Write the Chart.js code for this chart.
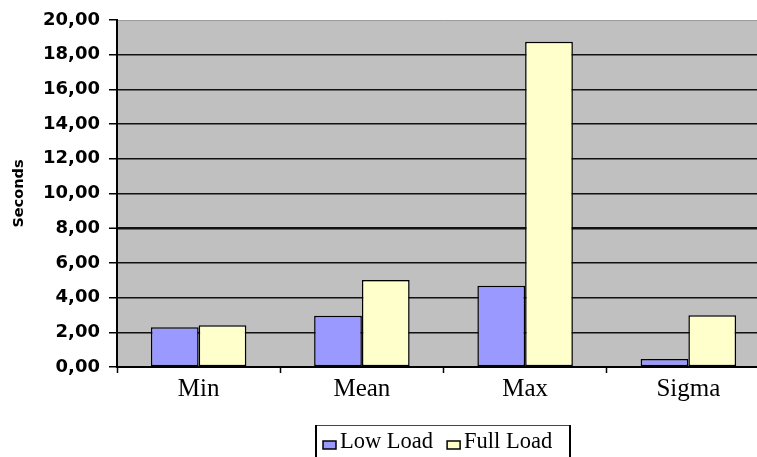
<!DOCTYPE html>
<html>
<head>
<meta charset="utf-8">
<script src="https://cdn.jsdelivr.net/npm/chart.js@4.4.1/dist/chart.umd.min.js"></script>
<style>
  html, body { margin: 0; padding: 0; background: #fff; overflow: hidden; }
  #wrap { position: relative; width: 772px; height: 457px; }
</style>
</head>
<body>
<div id="wrap"><canvas id="c"></canvas></div>
<script>
// Response-time statistics (seconds)
const categories = ['Min', 'Mean', 'Max', 'Sigma'];
const lowLoad = [2.29, 2.96, 4.69, 0.46];
const fullLoad = [2.40, 5.01, 18.75, 2.98];
const seriesNames = ['Low Load', 'Full Load'];
const yTicks = [0, 2, 4, 6, 8, 10, 12, 14, 16, 18, 20];

const serif = '"Liberation Serif", "Times New Roman", serif';
const sans = '"DejaVu Sans", Verdana, sans-serif';

// Grey plot background behind the bars
const plotBackground = {
  id: 'plotBackground',
  beforeDraw(chart) {
    const { ctx, chartArea: a } = chart;
    ctx.save();
    ctx.fillStyle = '#C0C0C0';
    ctx.fillRect(a.left, a.top, a.right - a.left, a.bottom - a.top);
    ctx.strokeStyle = '#9a9a9a';
    ctx.lineWidth = 1;
    ctx.beginPath();
    ctx.moveTo(a.left, a.top + 0.5);
    ctx.lineTo(a.right, a.top + 0.5);
    ctx.stroke();
    ctx.restore();
  }
};

// Boxed legend under the category labels
const boxedLegend = {
  id: 'boxedLegend',
  afterDraw(chart) {
    const { ctx, chartArea: a } = chart;
    const cx = (a.left + a.right) / 2;
    const boxW = 254, top = 425, bottom = 475;
    const left = Math.round(cx - boxW / 2) - 1;
    ctx.save();
    ctx.fillStyle = '#fff';
    ctx.fillRect(left, top, boxW, bottom - top);
    ctx.strokeStyle = '#444';
    ctx.lineWidth = 1;
    ctx.beginPath();
    ctx.moveTo(left, top + 0.5);
    ctx.lineTo(left + boxW, top + 0.5);
    ctx.stroke();
    ctx.strokeStyle = '#000';
    ctx.lineWidth = 2;
    ctx.beginPath();
    ctx.moveTo(left, top);
    ctx.lineTo(left, bottom);
    ctx.moveTo(left + boxW, top);
    ctx.lineTo(left + boxW, bottom);
    ctx.stroke();

    ctx.font = '22.5px ' + serif;
    ctx.textBaseline = 'alphabetic';
    let x = left + 7;
    chart.data.datasets.forEach((ds) => {
      ctx.fillStyle = ds.backgroundColor;
      ctx.fillRect(x, 441, 13, 8);
      ctx.strokeStyle = '#000';
      ctx.lineWidth = 1.5;
      ctx.strokeRect(x, 441, 13, 8);
      ctx.fillStyle = '#000';
      ctx.fillText(ds.label, x + 17, 448);
      x += 17 + ctx.measureText(ds.label).width + 14;
    });
    ctx.restore();
  }
};

new Chart(document.getElementById('c'), {
  type: 'bar',
  data: {
    labels: categories,
    datasets: [
      { label: seriesNames[0], data: lowLoad, backgroundColor: '#9999FF' },
      { label: seriesNames[1], data: fullLoad, backgroundColor: '#FFFFCC' }
    ]
  },
  options: {
    responsive: true,
    maintainAspectRatio: false,
    animation: false,
    devicePixelRatio: 1,
    layout: { padding: { top: 20, right: 2, bottom: 50, left: 0 } },
    datasets: {
      bar: {
        borderColor: '#000',
        borderWidth: 1.5,
        borderSkipped: false,
        categoryPercentage: 0.585,
        barPercentage: 1
      }
    },
    plugins: {
      legend: { display: false },
      tooltip: { enabled: false }
    },
    scales: {
      x: {
        afterFit(scale) { scale.height = 40; },
        offset: true,
        grid: {
          offset: true,
          drawOnChartArea: false,
          drawTicks: true,
          tickLength: 6,
          tickColor: '#000',
          tickWidth: 1.5
        },
        border: { display: true, color: '#000', width: 2 },
        ticks: {
          color: '#000',
          font: { family: serif, size: 25 },
          padding: 1
        }
      },
      y: {
        afterFit(scale) { scale.width = 117; },
        min: 0,
        max: 20,
        afterBuildTicks(scale) { scale.ticks = yTicks.map(v => ({ value: v })); },
        grid: {
          color: (c) => c.tick && c.tick.value === 20 ? 'rgba(0,0,0,0)' : '#111',
          lineWidth: (c) => c.tick && c.tick.value === 8 ? 2.5 : 1.5,
          drawTicks: true,
          tickLength: 8,
          tickColor: '#000',
          tickWidth: 1.5
        },
        border: { display: true, color: '#000', width: 2 },
        ticks: {
          color: '#000',
          padding: 9,
          font: { family: sans, size: 18, weight: 'bold' },
          callback: (v) => Number(v).toFixed(2).replace('.', ',')
        },
        title: {
          display: true,
          text: 'Seconds',
          color: '#000',
          font: { family: sans, size: 14.5, weight: 'bold' },
          padding: { top: 11, bottom: 0 }
        }
      }
    }
  },
  plugins: [plotBackground, boxedLegend]
});
</script>
</body>
</html>
